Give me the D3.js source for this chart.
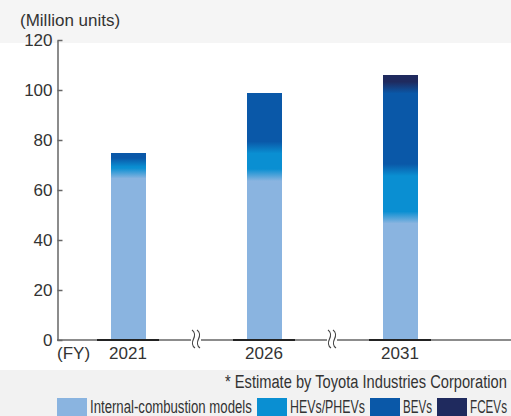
<!DOCTYPE html>
<meta charset="utf-8">
<style>
body { margin: 0; background: #fff; }
text { font-family: "Liberation Sans", Arial, sans-serif; fill: #333; }
.axisy path, .axisy line { stroke: #666; stroke-width: 1.5px; }
.axisy text { font-size: 17px; fill: #333; }
</style>
<body>
<script src="https://d3js.org/d3.v7.min.js"></script>
<script>

// data (million units)
var years = ["2021", "2026", "2031"];
var iceValues  = [67, 66, 49];
var hevValues  = [4, 11, 19];
var bevValues  = [4, 22, 33];
var fcevValues = [0, 0, 5];
var yTicks = [0, 20, 40, 60, 80, 100, 120];
var seriesKeys   = ["ice", "hev", "bev", "fcev"];
var seriesLabels = ["Internal-combustion models", "HEVs/PHEVs", "BEVs", "FCEVs"];
var seriesColors = ["#8ab4e0", "#0a8fd2", "#0a58a8", "#1f2a5e"];

var width = 511, height = 416;

var svg = d3.select("body").append("svg")
    .attr("width", width)
    .attr("height", height);

// light grey bands top and bottom
svg.append("rect").attr("x", 0).attr("y", 0).attr("width", width).attr("height", 43).style("fill", "#f5f5f5");
svg.append("rect").attr("x", 0).attr("y", 370).attr("width", width).attr("height", height - 370).style("fill", "#f2f2f2");

var x = d3.scalePoint().domain(years).range([60, 468]).padding(0.5);
var y = d3.scaleLinear().domain([0, 120]).range([340, 40]);
var barW = 35;

var table = years.map(function(yr, i) {
  return { year: yr, ice: iceValues[i], hev: hevValues[i], bev: bevValues[i], fcev: fcevValues[i] };
});
var stack = d3.stack().keys(seriesKeys)(table);

// one vertical gradient per bar so the segments blend softly like the original
var defs = svg.append("defs");
table.forEach(function(d, i) {
  var total = d.ice + d.hev + d.bev + d.fcev;
  var y0 = y(0), y1 = y(total), span = y0 - y1;
  var g = defs.append("linearGradient")
      .attr("id", "grad" + i)
      .attr("gradientUnits", "userSpaceOnUse")
      .attr("x1", 0).attr("x2", 0)
      .attr("y1", y0).attr("y2", y1);
  var segs = stack.map(function(s, k) { return { lo: s[i][0], hi: s[i][1], color: seriesColors[k] }; })
                  .filter(function(s) { return s.hi > s.lo; });
  segs.forEach(function(s, k) {
    var pLo = y0 - y(s.lo), pHi = y0 - y(s.hi);
    var b = Math.min(6, (pHi - pLo) / 2 - 0.5);
    var a = k === 0 ? 0 : (pLo + b) / span;
    var e = k === segs.length - 1 ? 1 : (pHi - b) / span;
    g.append("stop").attr("offset", a).attr("stop-color", s.color);
    g.append("stop").attr("offset", e).attr("stop-color", s.color);
  });
});

var layers = svg.append("g").selectAll("g")
    .data(stack)
    .enter().append("g");

layers.selectAll("rect")
    .data(function(d) { return d; })
    .enter().append("rect")
    .attr("x", function(d) { return x(d.data.year) - barW / 2; })
    .attr("width", barW)
    .attr("y", function(d) { return y(d[1]); })
    .attr("height", function(d) { return y(d[0]) - y(d[1]); })
    .attr("shape-rendering", "crispEdges")
    .style("fill", function(d) { return "url(#grad" + years.indexOf(d.data.year) + ")"; });

// x axis line
svg.append("line")
    .attr("x1", 57).attr("x2", width)
    .attr("y1", y(0)).attr("y2", y(0))
    .style("stroke", "#666").style("stroke-width", 1.5);

// darker strip under each bar
svg.selectAll(".under")
    .data(years)
    .enter().append("line")
    .attr("x1", function(d) { return x(d) - 31; })
    .attr("x2", function(d) { return x(d) + 31; })
    .attr("y1", y(0)).attr("y2", y(0))
    .style("stroke", "#222").style("stroke-width", 2);

// axis break marks between the years
var breaks = [ (x(years[0]) + x(years[1])) / 2, (x(years[1]) + x(years[2])) / 2 ];
breaks.forEach(function(cx) {
  var by = y(0);
  svg.append("rect").attr("x", cx - 5).attr("y", by - 2).attr("width", 10).attr("height", 4).style("fill", "#fff");
  [-2.5, 2.5].forEach(function(dx) {
    svg.append("path")
        .attr("d", "M" + (cx + dx - 1.5) + "," + (by - 10) +
                   " c 3,2 3,6 1.5,9 c -1.5,3 -1.5,7 1.5,9")
        .style("fill", "none").style("stroke", "#444").style("stroke-width", 1.2);
  });
});

// y axis, ticks pointing inward
svg.append("g")
    .attr("class", "axisy")
    .attr("transform", "translate(57.5,0)")
    .call(d3.axisLeft(y).tickValues(yTicks).tickSizeInner(-5).tickSizeOuter(0).tickPadding(5));

svg.append("text")
    .attr("x", 20).attr("y", 26)
    .style("font-size", "17px")
    .text("(Million units)");

// year labels
svg.selectAll(".year")
    .data(years)
    .enter().append("text")
    .attr("x", function(d) { return x(d); })
    .attr("y", 359)
    .attr("text-anchor", "middle")
    .style("font-size", "17px")
    .text(function(d) { return d; });

svg.append("text")
    .attr("x", 57).attr("y", 359)
    .style("font-size", "17px")
    .text("(FY)");

// condensed text: squeeze horizontally to a target width
function narrowText(x0, y0, target, str, anchorEnd) {
  var t = svg.append("text").style("font-size", "18.5px").text(str);
  var w = t.node().getComputedTextLength();
  var k = Math.min(1, target / w);
  var left = anchorEnd ? x0 - w * k : x0;
  t.attr("transform", "translate(" + left + "," + y0 + ") scale(" + k + ",1)");
  return t;
}

// footnote
narrowText(507, 388, 282, "* Estimate by Toyota Industries Corporation", true);

// legend
var legendTextW = [162, 75, 29, 37];
var lx = 57;
seriesLabels.forEach(function(lbl, i) {
  svg.append("rect")
      .attr("x", lx).attr("y", 398)
      .attr("width", 30).attr("height", 18)
      .style("fill", seriesColors[i]);
  lx += 33;
  narrowText(lx, 413, legendTextW[i], lbl, false);
  lx += legendTextW[i] + 5;
});

</script>
</body>
